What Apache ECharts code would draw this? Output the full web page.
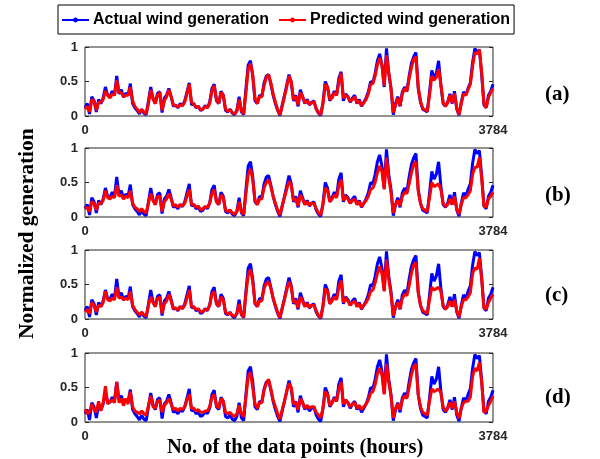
<!DOCTYPE html>
<html>
<head>
<meta charset="utf-8">
<script src="https://cdn.jsdelivr.net/npm/echarts@6/dist/echarts.min.js"></script>
<style>
html,body{margin:0;padding:0;background:#fff;}
#chart{width:600px;height:459px;}
</style>
</head>
<body>
<div id="chart"></div>
<script>
// ---- data ----
const hoursMax = 3784;
const xTickLabels = [0, 3784];
const yTicks = [0, 0.5, 1];
const panelLabels = ['(a)', '(b)', '(c)', '(d)'];
const seriesNames = ['Actual wind generation', 'Predicted wind generation'];

const actual = [0.12,0.18,0.03,0.28,0.22,0.06,0.24,0.18,0.26,0.42,
0.30,0.28,0.36,0.30,0.58,0.32,0.38,0.27,0.33,0.30,
0.47,0.18,0.12,0.08,0.03,0.10,0.04,0.02,0.22,0.42,
0.25,0.18,0.33,0.35,0.05,0.26,0.30,0.40,0.28,0.14,
0.16,0.12,0.18,0.15,0.22,0.35,0.48,0.16,0.18,0.12,
0.14,0.08,0.10,0.15,0.12,0.20,0.40,0.46,0.22,0.18,
0.36,0.30,0.08,0.06,0.10,0.04,0.02,0.08,0.28,0.06,
0.02,0.40,0.74,0.80,0.58,0.22,0.18,0.30,0.28,0.48,
0.58,0.60,0.46,0.30,0.18,0.08,0.01,0.16,0.30,0.45,
0.60,0.48,0.22,0.30,0.14,0.38,0.28,0.18,0.24,0.16,
0.20,0.22,0.10,0.04,0.01,0.20,0.50,0.42,0.22,0.28,
0.36,0.30,0.55,0.64,0.22,0.32,0.28,0.20,0.26,0.30,
0.18,0.24,0.14,0.20,0.26,0.35,0.50,0.48,0.62,0.80,
0.90,0.74,0.42,0.98,0.62,0.40,0.02,0.18,0.28,0.14,
0.35,0.42,0.36,0.58,0.76,0.86,0.92,0.40,0.20,0.10,
0.08,0.06,0.35,0.66,0.55,0.62,0.80,0.45,0.18,0.14,
0.20,0.32,0.18,0.36,0.10,0.01,0.20,0.35,0.30,0.40,
0.48,0.78,0.98,0.92,0.96,0.60,0.16,0.12,0.30,0.36,
0.46];

const predictedA = [0.10,0.14,0.06,0.24,0.22,0.08,0.20,0.20,0.24,0.36,
0.30,0.26,0.32,0.30,0.52,0.34,0.34,0.28,0.30,0.30,
0.42,0.22,0.14,0.10,0.05,0.09,0.06,0.03,0.18,0.38,
0.26,0.18,0.30,0.34,0.08,0.22,0.28,0.38,0.28,0.16,
0.15,0.13,0.16,0.15,0.20,0.32,0.46,0.20,0.17,0.13,
0.14,0.09,0.10,0.14,0.12,0.18,0.36,0.44,0.24,0.18,
0.34,0.30,0.10,0.07,0.09,0.05,0.03,0.07,0.24,0.08,
0.03,0.34,0.68,0.76,0.60,0.26,0.18,0.28,0.28,0.44,
0.56,0.60,0.48,0.32,0.20,0.09,0.02,0.14,0.28,0.42,
0.58,0.50,0.24,0.28,0.16,0.34,0.28,0.19,0.22,0.17,
0.19,0.21,0.11,0.05,0.02,0.18,0.46,0.42,0.24,0.26,
0.34,0.30,0.50,0.62,0.26,0.30,0.28,0.21,0.24,0.28,
0.19,0.22,0.15,0.19,0.24,0.32,0.46,0.47,0.58,0.74,
0.84,0.74,0.44,0.88,0.64,0.40,0.05,0.16,0.26,0.15,
0.32,0.40,0.36,0.54,0.70,0.82,0.86,0.42,0.22,0.11,
0.09,0.07,0.30,0.58,0.52,0.56,0.68,0.46,0.20,0.14,
0.19,0.30,0.19,0.33,0.12,0.02,0.18,0.32,0.30,0.38,
0.46,0.72,0.92,0.90,0.96,0.64,0.18,0.12,0.27,0.34,
0.40];

const predictedB = [0.12,0.14,0.08,0.22,0.20,0.10,0.20,0.20,0.24,0.38,
0.28,0.26,0.30,0.28,0.46,0.30,0.32,0.26,0.30,0.28,
0.38,0.20,0.14,0.12,0.08,0.12,0.08,0.06,0.20,0.34,
0.24,0.18,0.30,0.30,0.08,0.22,0.26,0.34,0.26,0.16,
0.18,0.14,0.18,0.16,0.20,0.30,0.40,0.18,0.18,0.14,
0.16,0.10,0.12,0.15,0.14,0.20,0.34,0.40,0.22,0.18,
0.32,0.28,0.10,0.08,0.10,0.06,0.04,0.08,0.22,0.08,
0.04,0.34,0.62,0.70,0.54,0.24,0.18,0.26,0.26,0.42,
0.50,0.54,0.44,0.30,0.20,0.10,0.03,0.16,0.28,0.40,
0.52,0.46,0.24,0.26,0.16,0.32,0.26,0.18,0.22,0.17,
0.20,0.20,0.12,0.06,0.03,0.18,0.42,0.38,0.22,0.26,
0.32,0.28,0.46,0.54,0.24,0.30,0.26,0.20,0.24,0.26,
0.18,0.22,0.15,0.20,0.24,0.30,0.40,0.42,0.50,0.64,
0.74,0.66,0.40,0.86,0.56,0.36,0.06,0.18,0.24,0.16,
0.30,0.36,0.34,0.48,0.64,0.76,0.80,0.38,0.20,0.12,
0.10,0.08,0.28,0.50,0.44,0.46,0.48,0.40,0.20,0.15,
0.18,0.26,0.18,0.30,0.12,0.04,0.18,0.28,0.28,0.32,
0.38,0.62,0.72,0.72,0.86,0.56,0.16,0.14,0.26,0.30,
0.36];

const predictedC = [0.10,0.14,0.08,0.24,0.20,0.10,0.20,0.18,0.24,0.40,
0.28,0.26,0.30,0.28,0.46,0.30,0.32,0.28,0.30,0.28,
0.40,0.20,0.14,0.10,0.06,0.10,0.06,0.04,0.20,0.32,
0.24,0.18,0.30,0.32,0.08,0.22,0.26,0.36,0.26,0.15,
0.16,0.13,0.18,0.15,0.20,0.30,0.42,0.18,0.17,0.14,
0.15,0.10,0.11,0.14,0.13,0.20,0.36,0.40,0.22,0.18,
0.32,0.28,0.10,0.07,0.09,0.05,0.04,0.08,0.22,0.07,
0.03,0.36,0.64,0.72,0.54,0.24,0.18,0.26,0.26,0.44,
0.52,0.54,0.44,0.30,0.20,0.10,0.02,0.15,0.28,0.42,
0.54,0.46,0.24,0.26,0.16,0.32,0.26,0.18,0.22,0.17,
0.20,0.20,0.12,0.05,0.02,0.18,0.44,0.40,0.22,0.26,
0.32,0.28,0.46,0.56,0.24,0.30,0.26,0.20,0.24,0.26,
0.18,0.22,0.15,0.20,0.24,0.30,0.40,0.42,0.52,0.66,
0.76,0.66,0.40,0.86,0.58,0.36,0.05,0.17,0.24,0.15,
0.30,0.36,0.34,0.48,0.66,0.78,0.82,0.38,0.20,0.12,
0.10,0.08,0.28,0.46,0.42,0.44,0.46,0.40,0.20,0.14,
0.18,0.26,0.18,0.28,0.12,0.03,0.18,0.28,0.28,0.32,
0.38,0.66,0.74,0.72,0.88,0.58,0.16,0.14,0.24,0.30,
0.36];

const predictedD = [0.18,0.12,0.14,0.26,0.18,0.14,0.30,0.16,0.28,0.52,
0.26,0.30,0.32,0.28,0.58,0.28,0.34,0.24,0.34,0.26,
0.44,0.22,0.16,0.14,0.12,0.16,0.12,0.10,0.24,0.38,
0.22,0.20,0.30,0.32,0.14,0.24,0.28,0.34,0.26,0.18,
0.20,0.16,0.20,0.18,0.22,0.32,0.40,0.20,0.20,0.16,
0.18,0.14,0.14,0.16,0.16,0.22,0.36,0.40,0.24,0.20,
0.34,0.30,0.14,0.12,0.14,0.10,0.08,0.12,0.24,0.12,
0.08,0.36,0.66,0.72,0.50,0.26,0.20,0.28,0.28,0.46,
0.56,0.62,0.48,0.32,0.22,0.12,0.04,0.18,0.30,0.44,
0.56,0.50,0.26,0.28,0.18,0.34,0.28,0.20,0.24,0.20,
0.22,0.22,0.14,0.10,0.06,0.20,0.44,0.40,0.24,0.28,
0.34,0.30,0.48,0.58,0.26,0.32,0.28,0.22,0.26,0.28,
0.20,0.24,0.18,0.22,0.26,0.32,0.42,0.44,0.54,0.70,
0.78,0.68,0.40,0.84,0.58,0.38,0.06,0.20,0.26,0.18,
0.32,0.38,0.34,0.50,0.68,0.80,0.84,0.40,0.22,0.14,
0.12,0.10,0.30,0.48,0.44,0.46,0.48,0.42,0.22,0.16,
0.20,0.28,0.20,0.30,0.14,0.05,0.20,0.28,0.30,0.30,
0.36,0.66,0.78,0.74,0.86,0.58,0.14,0.16,0.24,0.30,
0.38];

const predictedSets = [predictedA, predictedB, predictedC, predictedD];

// ---- chart ----
const gridTops = [47, 148, 250, 353];
const gridH = 69, gridLeft = 85, gridW = 408;
const labelCenters = [95, 196, 296, 398];

function toPairs(arr) {
  const step = hoursMax / (arr.length - 1);
  return arr.map((v, i) => [i * step, v]);
}

const chart = echarts.init(document.getElementById('chart'), null, {renderer: 'canvas'});

const grids = [], xAxes = [], yAxes = [], series = [], graphics = [];
const tickFont = {fontFamily: 'Liberation Sans', fontWeight: 'bold', fontSize: 13, color: '#262626'};

for (let p = 0; p < 4; p++) {
  grids.push({left: gridLeft, top: gridTops[p], width: gridW, height: gridH,
    show: true, borderColor: '#262626', borderWidth: 1, backgroundColor: 'transparent'});
  xAxes.push({type: 'value', gridIndex: p, min: 0, max: hoursMax,
    axisLine: {show: false}, axisTick: {show: false}, splitLine: {show: false},
    axisLabel: Object.assign({customValues: xTickLabels, margin: 8, formatter: v => String(v)}, tickFont)});
  yAxes.push({type: 'value', gridIndex: p, min: 0, max: 1, interval: 0.5, position: 'left',
    axisLine: {show: false}, splitLine: {show: false},
    axisTick: {show: true, inside: true, length: 4, lineStyle: {color: '#262626'}},
    axisLabel: Object.assign({margin: 7}, tickFont)});
  yAxes.push({type: 'value', gridIndex: p, min: 0, max: 1, interval: 0.5, position: 'right',
    axisLine: {show: false}, splitLine: {show: false},
    axisTick: {show: true, inside: true, length: 4, lineStyle: {color: '#262626'}},
    axisLabel: {show: false}});
  series.push({name: seriesNames[0], type: 'line', xAxisIndex: p, yAxisIndex: 2 * p,
    data: toPairs(actual), symbol: 'circle', symbolSize: 3, showSymbol: false,
    lineStyle: {color: '#0000ff', width: 3}, itemStyle: {color: '#0000ff'}, z: 2});
  series.push({name: seriesNames[1], type: 'line', xAxisIndex: p, yAxisIndex: 2 * p,
    data: toPairs(predictedSets[p]), symbol: 'circle', symbolSize: 3, showSymbol: false,
    lineStyle: {color: '#ff0000', width: 3}, itemStyle: {color: '#ff0000'}, z: 3});
  graphics.push({type: 'text', left: 545, top: labelCenters[p] - 11,
    style: {text: panelLabels[p], font: 'bold 21px "Liberation Serif"', fill: '#000'}});
}

graphics.push({type: 'text', left: 167, top: 437,
  style: {text: 'No. of the data points (hours)', font: 'bold 20.5px "Liberation Serif"', fill: '#000'}});
graphics.push({type: 'text', rotation: Math.PI / 2, x: 16, y: 339,
  style: {text: 'Normalized generation', font: 'bold 21.5px "Liberation Serif"', fill: '#000'}});

chart.setOption({
  animation: false,
  backgroundColor: '#fff',
  legend: {
    left: 58, top: 5, padding: [7, 4, 6, 3],
    borderColor: '#000', borderWidth: 1,
    itemWidth: 27, itemHeight: 6, itemGap: 9,
    data: seriesNames,
    textStyle: {fontFamily: 'Liberation Sans', fontWeight: 'bold', fontSize: 16, color: '#000', padding: [0, 0, 0, -1]}
  },
  grid: grids,
  xAxis: xAxes,
  yAxis: yAxes,
  series: series,
  graphic: graphics
});
</script>
</body>
</html>
